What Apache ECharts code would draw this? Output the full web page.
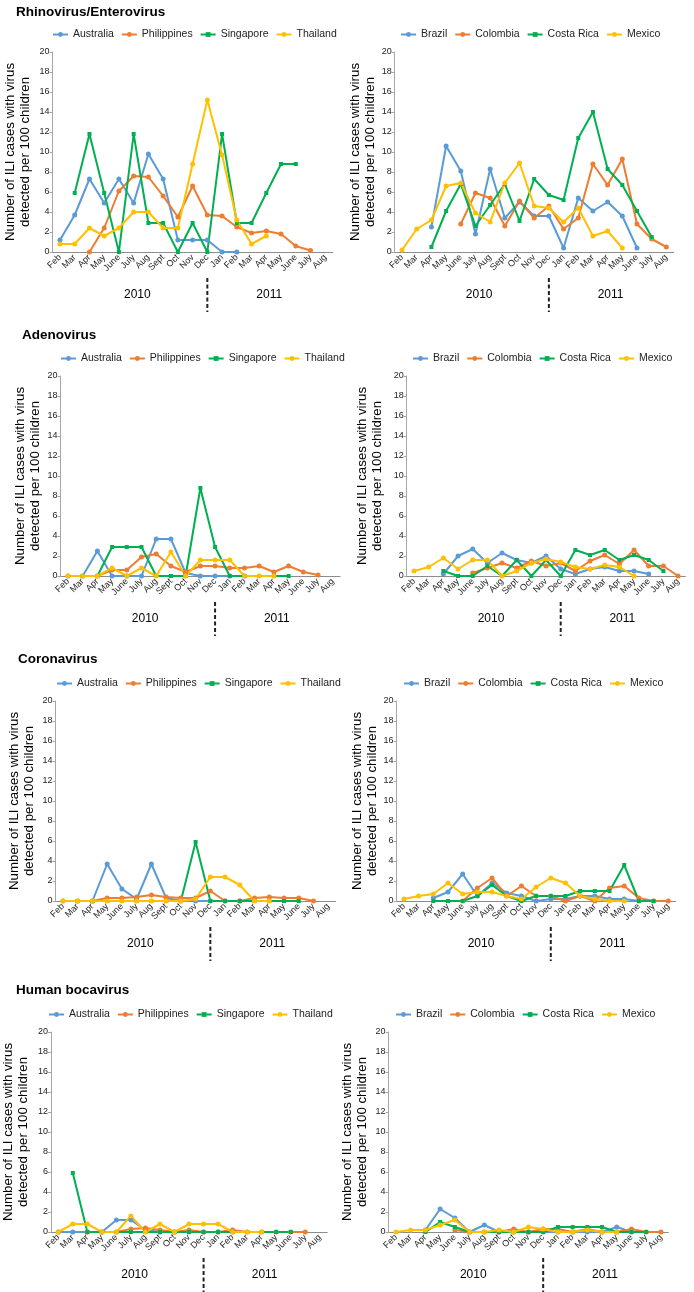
<!DOCTYPE html>
<html>
<head>
<meta charset="utf-8">
<script src="https://cdn.jsdelivr.net/npm/echarts@6/dist/echarts.min.js"></script>
<style>
  html, body { margin: 0; padding: 0; background: #fff; }
  #main { width: 694px; height: 1292px; }
</style>
</head>
<body>
<div id="main"></div>
<script>
// months Feb 2010 .. Aug 2011
var months = ['Feb', 'Mar', 'Apr', 'May', 'June', 'July', 'Aug', 'Sept', 'Oct', 'Nov', 'Dec',
              'Jan', 'Feb', 'Mar', 'Apr', 'May', 'June', 'July', 'Aug'];
var years = ['2010', '2011'];
var asiaCountries = ['Australia', 'Philippines', 'Singapore', 'Thailand'];
var americaCountries = ['Brazil', 'Colombia', 'Costa Rica', 'Mexico'];
var viruses = ['Rhinovirus/Enterovirus', 'Adenovirus', 'Coronavirus', 'Human bocavirus'];
var yTicks = [0, 2, 4, 6, 8, 10, 12, 14, 16, 18, 20];
var _ = null;

// Rhinovirus/Enterovirus
var rhinoAustralia   = [1.2, 3.7, 7.3, 4.9, 7.3, 4.9, 9.8, 7.3, 1.2, 1.2, 1.2, 0, 0, _, _, _, _, _, _];
var rhinoPhilippines = [_, _, 0, 2.4, 6.1, 7.6, 7.5, 5.6, 3.5, 6.6, 3.7, 3.6, 2.5, 1.9, 2.1, 1.8, 0.6, 0.15, _];
var rhinoSingapore   = [_, 5.9, 11.8, 5.9, 0, 11.8, 2.9, 2.9, 0, 2.9, 0, 11.8, 2.9, 2.9, 5.9, 8.8, 8.8, _, _];
var rhinoThailand    = [0.8, 0.8, 2.4, 1.6, 2.4, 4.0, 4.0, 2.4, 2.4, 8.8, 15.2, 9.7, 3.2, 0.8, 1.6, _, _, _, _];
var rhinoBrazil      = [_, _, 2.5, 10.6, 8.1, 1.8, 8.3, 3.4, 5.0, 3.6, 3.6, 0.4, 5.4, 4.1, 5.0, 3.6, 0.4, _, _];
var rhinoColombia    = [_, _, _, _, 2.8, 5.9, 5.4, 2.6, 5.1, 3.4, 4.6, 2.3, 3.4, 8.8, 6.7, 9.3, 2.8, 1.3, 0.5];
var rhinoCostaRica   = [_, _, 0.5, 4.1, 6.8, 2.6, 4.7, 6.8, 3.1, 7.3, 5.7, 5.2, 11.4, 14.0, 8.3, 6.7, 4.1, 1.5, _];
var rhinoMexico      = [0.2, 2.3, 3.2, 6.6, 6.9, 3.9, 3.0, 6.9, 8.9, 4.6, 4.4, 3.0, 4.4, 1.6, 2.1, 0.4, _, _, _];

// Adenovirus
var adenoAustralia   = [0, 0, 2.5, 0, 0, 0, 3.7, 3.7, 0.3, 0, 0, 0, 0, _, _, _, _, _, _];
var adenoPhilippines = [_, _, 0, 0.6, 0.6, 1.9, 2.2, 1.0, 0.4, 1.0, 1.0, 0.8, 0.8, 1.0, 0.4, 1.0, 0.4, 0.1, _];
var adenoSingapore   = [_, 0, 0, 2.9, 2.9, 2.9, 0, 0, 0, 8.8, 2.9, 0, 0, 0, 0, 0, _, _, _];
var adenoThailand    = [0, 0, 0, 0.8, 0, 0.8, 0, 2.4, 0, 1.6, 1.6, 1.6, 0, 0, 0, _, _, _, _];
var adenoBrazil      = [_, _, 0.2, 2.0, 2.7, 1.3, 2.3, 1.6, 1.3, 2.0, 0.7, 0.2, 0.7, 0.9, 0.5, 0.5, 0.2, _, _];
var adenoColombia    = [_, _, _, _, 0.3, 0.8, 1.3, 0.8, 1.5, 1.0, 1.3, 0.5, 1.5, 2.1, 1.2, 2.6, 1.0, 1.0, 0];
var adenoCostaRica   = [_, _, 0.5, 0, 0, 1.0, 0, 1.6, 0, 1.6, 0, 2.6, 2.1, 2.6, 1.6, 2.1, 1.6, 0.5, _];
var adenoMexico      = [0.5, 0.9, 1.8, 0.7, 1.6, 1.6, 0, 0.5, 1.3, 1.7, 1.4, 0.9, 0.7, 1.1, 0.9, 0, _, _, _];

// Coronavirus
var coronaAustralia   = [0, 0, 0, 3.7, 1.2, 0.2, 3.7, 0.3, 0, 0, 0, 0, 0, _, _, _, _, _, _];
var coronaPhilippines = [_, _, 0, 0.3, 0.3, 0.4, 0.6, 0.4, 0.3, 0.3, 1.0, 0, 0, 0.3, 0.4, 0.3, 0.3, 0, _];
var coronaSingapore   = [_, 0, 0, 0, 0, 0, 0, 0, 0, 5.9, 0, 0, 0, 0, 0, 0, 0, _, _];
var coronaThailand    = [0, 0, 0, 0, 0, 0, 0, 0, 0, 0.2, 2.4, 2.4, 1.6, 0, 0, _, _, _, _];
var coronaBrazil      = [_, _, 0.3, 0.9, 2.7, 0.5, 1.8, 0.8, 0.5, 0, 0.2, 0.2, 0.5, 0.5, 0.2, 0.2, 0, _, _];
var coronaColombia    = [_, _, _, _, 0, 1.3, 2.3, 0.5, 1.5, 0.5, 0.5, 0, 0.5, 0, 1.3, 1.5, 0.3, 0, 0];
var coronaCostaRica   = [_, _, 0, 0, 0, 0.5, 1.6, 0.5, 0, 0.5, 0.5, 0.5, 1.0, 1.0, 1.0, 3.6, 0, 0, _];
var coronaMexico      = [0.2, 0.5, 0.7, 1.8, 0.7, 0.9, 0.9, 0.5, 0.2, 1.4, 2.3, 1.8, 0.5, 0.2, 0, 0, _, _, _];

// Human bocavirus
var bocaAustralia   = [0, 0, 0, 0, 1.2, 1.2, 0.2, 0, 0, 0, 0, 0, 0, _, _, _, _, _, _];
var bocaPhilippines = [_, _, 0, 0, 0, 0.3, 0.4, 0.2, 0, 0.2, 0, 0, 0.2, 0, 0, 0, 0, 0, _];
var bocaSingapore   = [_, 5.9, 0, 0, 0, 0, 0, 0, 0, 0, 0, 0, 0, 0, 0, 0, 0, _, _];
var bocaThailand    = [0, 0.8, 0.8, 0, 0, 1.6, 0, 0.8, 0, 0.8, 0.8, 0.8, 0, 0, 0, _, _, _, _];
var bocaBrazil      = [_, _, 0.2, 2.3, 1.4, 0, 0.7, 0, 0, 0, 0, 0, 0, 0, 0, 0.5, 0, _, _];
var bocaColombia    = [_, _, _, _, 0.2, 0, 0, 0, 0.3, 0, 0.3, 0.3, 0, 0.3, 0, 0, 0.3, 0, 0];
var bocaCostaRica   = [_, _, 0, 1.0, 0.5, 0, 0, 0, 0, 0, 0, 0.5, 0.5, 0.5, 0.5, 0, 0, 0, _];
var bocaMexico      = [0, 0.2, 0.2, 0.7, 1.2, 0, 0, 0.2, 0, 0.5, 0.3, 0, 0, 0.2, 0, 0, _, _, _];

var panelData = [
    [rhinoAustralia, rhinoPhilippines, rhinoSingapore, rhinoThailand],
    [rhinoBrazil, rhinoColombia, rhinoCostaRica, rhinoMexico],
    [adenoAustralia, adenoPhilippines, adenoSingapore, adenoThailand],
    [adenoBrazil, adenoColombia, adenoCostaRica, adenoMexico],
    [coronaAustralia, coronaPhilippines, coronaSingapore, coronaThailand],
    [coronaBrazil, coronaColombia, coronaCostaRica, coronaMexico],
    [bocaAustralia, bocaPhilippines, bocaSingapore, bocaThailand],
    [bocaBrazil, bocaColombia, bocaCostaRica, bocaMexico]
];

// layout
var colors = ['#5B9BD5', '#ED7D31', '#00B050', '#FFC000'];
var font = 'Liberation Sans, Arial, sans-serif';
var grids = [
    {left: 52.6, top: 52, width: 280},
    {left: 394.7, top: 52, width: 279},
    {left: 60.6, top: 376, width: 279.5},
    {left: 406.7, top: 376, width: 278.7},
    {left: 55.6, top: 701, width: 280},
    {left: 396.6, top: 701, width: 279},
    {left: 47.6, top: 1032, width: 279.5},
    {left: 388.6, top: 1032, width: 279.7}
];
var gridHeight = 200;
var legendPos = [[52, 29], [400, 29], [60, 353], [412, 353], [56, 678], [403, 678], [48, 1009], [395, 1009]];
var titleTops = [0, 323, 647, 978];
var nameGaps = [20, 16, 18, 22, 19, 15, 20, 19];

var myChart = echarts.init(document.getElementById('main'));

var option = {
    backgroundColor: '#fff',
    animation: false,
    textStyle: {fontFamily: font},
    title: [],
    legend: [],
    grid: [],
    xAxis: [],
    yAxis: [],
    series: []
};

for (var r = 0; r < 4; r++) {
    option.title.push({
        text: viruses[r],
        left: r == 2 ? 13 : (r == 1 ? 17 : 11),
        top: titleTops[r],
        textStyle: {fontSize: 13.5, fontWeight: 'bold', color: '#000', fontFamily: font}
    });
}

for (var p = 0; p < 8; p++) {
    var names = (p % 2 == 0) ? asiaCountries : americaCountries;
    option.grid.push({
        left: grids[p].left, top: grids[p].top, width: grids[p].width, height: gridHeight
    });
    option.legend.push({
        data: names,
        left: legendPos[p][0],
        top: legendPos[p][1],
        padding: 0,
        itemWidth: 15,
        itemHeight: 6,
        itemGap: 7,
        selectedMode: false,
        textStyle: {fontSize: 10.5, color: '#222', fontFamily: font}
    });
    option.xAxis.push({
        type: 'category',
        gridIndex: p,
        data: months,
        axisLine: {lineStyle: {color: '#8c8c8c', width: 1}},
        axisTick: {show: false},
        axisLabel: {interval: 0, rotate: 45, fontSize: 9, color: '#222', margin: 4, fontFamily: font},
        splitLine: {show: false}
    });
    option.yAxis.push({
        type: 'value',
        gridIndex: p,
        min: yTicks[0],
        max: yTicks[yTicks.length - 1],
        interval: yTicks[1] - yTicks[0],
        name: 'Number of ILI cases with virus\ndetected per 100 children',
        nameLocation: 'middle',
        nameGap: nameGaps[p],
        nameTextStyle: {fontSize: 13.3, lineHeight: 15, color: '#000', fontFamily: font},
        axisLine: {show: true, lineStyle: {color: '#a6a6a6', width: 1}},
        axisTick: {show: true, length: 3, lineStyle: {color: '#a6a6a6'}},
        axisLabel: {fontSize: 9, color: '#222', margin: 3, fontFamily: font},
        splitLine: {show: false}
    });
    for (var s = 0; s < 4; s++) {
        option.series.push({
            name: names[s],
            type: 'line',
            xAxisIndex: p,
            yAxisIndex: p,
            data: panelData[p][s],
            symbol: s == 2 ? 'rect' : 'circle',
            symbolSize: s == 2 ? 4 : 5,
            showAllSymbol: true,
            itemStyle: {color: colors[s]},
            lineStyle: {color: colors[s], width: 2},
            emphasis: {disabled: true}
        });
    }
}

myChart.setOption(option);

// year labels and the dashed year divider, placed through the axes
var extras = [];
for (var p = 0; p < 8; p++) {
    var x0 = myChart.convertToPixel({xAxisIndex: p}, 0);
    var x1 = myChart.convertToPixel({xAxisIndex: p}, 1);
    var step = x1 - x0;
    var xDec = myChart.convertToPixel({xAxisIndex: p}, 10);
    var bottom = grids[p].top + gridHeight;
    extras.push({
        type: 'line',
        shape: {x1: xDec, y1: bottom + 26, x2: xDec, y2: bottom + 60},
        style: {stroke: '#222', lineWidth: 2, lineDash: [4, 2.5]}
    });
    var yearPos = [x0 + 5.25 * step, x0 + 14.2 * step];
    for (var k = 0; k < 2; k++) {
        extras.push({
            type: 'text',
            x: yearPos[k],
            y: bottom + 43,
            style: {text: years[k], fontSize: 12, fill: '#000', fontFamily: font, align: 'center', verticalAlign: 'middle'}
        });
    }
}
myChart.setOption({graphic: extras});
</script>
</body>
</html>
